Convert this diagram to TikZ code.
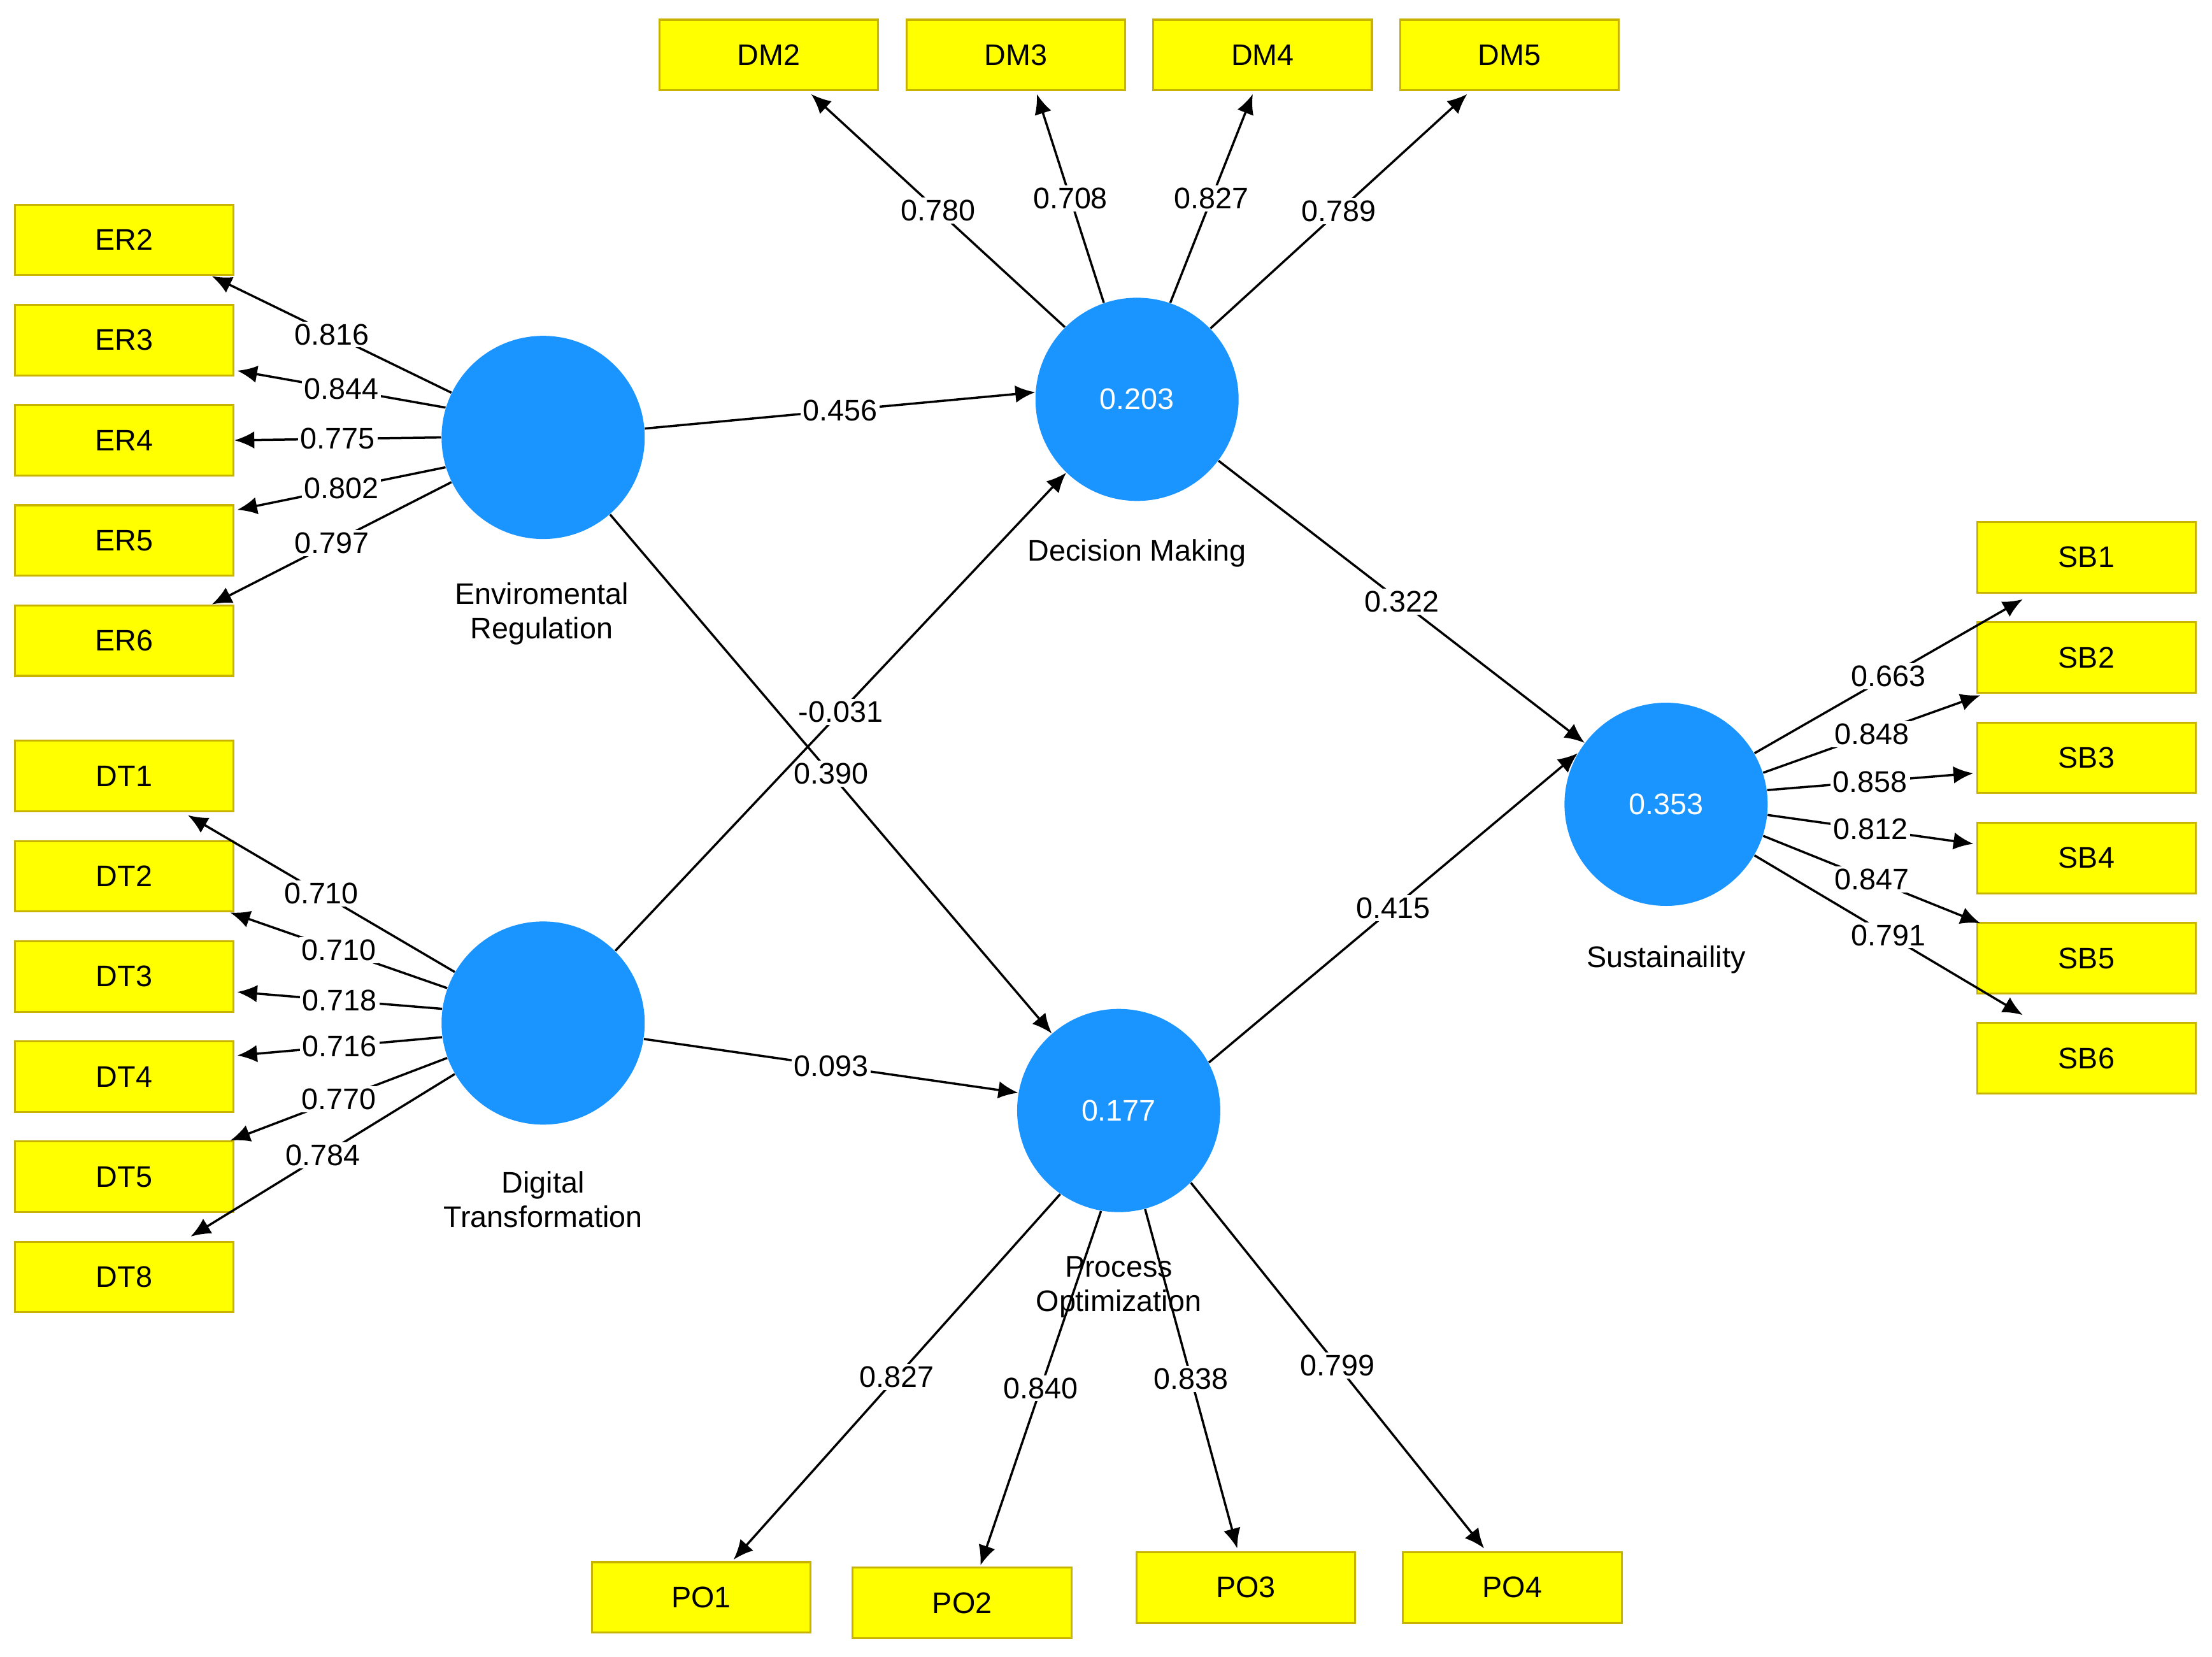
\documentclass[tikz,border=0pt]{standalone}
\usepackage{fontspec}
\setmainfont{Liberation Sans}
\usetikzlibrary{arrows.meta,calc}
\definecolor{cblue}{HTML}{1A94FF}
\definecolor{bfill}{HTML}{FFFF00}
\definecolor{bdraw}{HTML}{C8B400}
\begin{document}
\begin{tikzpicture}[x=0.02cm,y=-0.02cm,
 font=\fontsize{12}{14}\selectfont,
 lv/.style={circle,fill=cblue,minimum size=144*0.02cm,inner sep=0,text=white},
 box/.style={rectangle,fill=bfill,draw=bdraw,line width=0.8pt,minimum width=155*0.02cm,minimum height=50*0.02cm,inner sep=0},
 arr/.style={-{Latex[length=8pt,width=7pt]},line width=0.9pt},
 lab/.style={fill=white,inner sep=1pt,pos=0.5},
 lvcap/.style={align=center}]
\useasboundingbox (0,0) rectangle (1568,1174);
% latent variables
\node[lv] (er) at (385,310) {};
\node[lv] (dm) at (806,283) {0.203};
\node[lv] (dt) at (385,725) {};
\node[lv] (po) at (793,787) {0.177};
\node[lv] (sb) at (1181,570) {0.353};
\node[lvcap] (erc) at (384,435) {Enviromental\\Regulation};
\node[lvcap] (dmc) at (806,392) {Decision Making};
\node[lvcap] (dtc) at (385,850) {Digital\\Transformation};
\node[lvcap] (poc) at (793,912) {Process\\Optimization};
\node[lvcap] (sbc) at (1181,680) {Sustainaility};
% boxes
\node[box] (er2) at (88,170) {ER2};
\node[box] (er3) at (88,241) {ER3};
\node[box] (er4) at (88,312) {ER4};
\node[box] (er5) at (88,383) {ER5};
\node[box] (er6) at (88,454) {ER6};
\node[box] (dt1) at (88,550) {DT1};
\node[box] (dt2) at (88,621) {DT2};
\node[box] (dt3) at (88,692) {DT3};
\node[box] (dt4) at (88,763) {DT4};
\node[box] (dt5) at (88,834) {DT5};
\node[box] (dt8) at (88,905) {DT8};
\node[box] (dm2) at (545,39) {DM2};
\node[box] (dm3) at (720,39) {DM3};
\node[box] (dm4) at (895,39) {DM4};
\node[box] (dm5) at (1070,39) {DM5};
\node[box] (sb1) at (1479,395) {SB1};
\node[box] (sb2) at (1479,466) {SB2};
\node[box] (sb3) at (1479,537) {SB3};
\node[box] (sb4) at (1479,608) {SB4};
\node[box] (sb5) at (1479,679) {SB5};
\node[box] (sb6) at (1479,750) {SB6};
\node[box] (po1) at (497,1132) {PO1};
\node[box] (po2) at (682,1136) {PO2};
\node[box] (po3) at (883,1125) {PO3};
\node[box] (po4) at (1072,1125) {PO4};
% ER loadings
\draw[arr] (er.154) -- node[lab]{0.816} ($(er2.south east)+(-16,0)$);
\draw[arr] (er.163) -- node[lab]{0.844} ($(er3.south east)+(2,-4)$);
\draw[arr] (er.180) -- node[lab]{0.775} (er4.east);
\draw[arr] (er.197) -- node[lab]{0.802} ($(er5.north east)+(2,4)$);
\draw[arr] (er.206) -- node[lab]{0.797} ($(er6.north east)+(-16,0)$);
% DT loadings
\draw[arr] (dt.150) -- node[lab]{0.710} ($(dt1.south east)+(-33,2)$);
\draw[arr] (dt.160) -- node[lab]{0.710} ($(dt2.south east)+(-3,0)$);
\draw[arr] (dt.172) -- node[lab]{0.718} ($(dt3.east)+(2,11)$);
\draw[arr] (dt.188) -- node[lab]{0.716} ($(dt4.east)+(2,-15)$);
\draw[arr] (dt.200) -- node[lab]{0.770} ($(dt5.north east)+(-3,0)$);
\draw[arr] (dt.210) -- node[lab]{0.784} ($(dt8.north east)+(-31,-3)$);
% DM loadings
\draw[arr] (dm.135) -- node[lab]{0.780} ($(dm2.south)+(30,2)$);
\draw[arr] (dm.109) -- node[lab]{0.708} ($(dm3.south)+(15,2)$);
\draw[arr] (dm.71) -- node[lab]{0.827} ($(dm4.south)+(-7,2)$);
\draw[arr] (dm.44) -- node[lab]{0.789} ($(dm5.south)+(-30,2)$);
% SB loadings
\draw[arr] (sb.30) -- node[lab]{0.663} ($(sb1.south west)+(33,4)$);
\draw[arr] (sb.18) -- node[lab]{0.848} ($(sb2.south west)+(3,1)$);
\draw[arr] (sb.8) -- node[lab]{0.858} ($(sb3.west)+(-2,11)$);
\draw[arr] (sb.-6) -- node[lab]{0.812} ($(sb4.west)+(-2,-10)$);
\draw[arr] (sb.-18) -- node[lab]{0.847} ($(sb5.north west)+(3,1)$);
\draw[arr] (sb.-30) -- node[lab]{0.791} ($(sb6.north west)+(33,-5)$);
% PO loadings
\draw[arr] (po.-125) -- node[lab]{0.827} ($(po1.north)+(23,-1)$);
\draw[arr] (po.-100) -- node[lab]{0.840} ($(po2.north)+(13,-1)$);
\draw[arr] (po.-75) -- node[lab]{0.838} ($(po3.north)+(-6,-2)$);
\draw[arr] (po.-45) -- node[lab]{0.799} ($(po4.north)+(-20,-2)$);
% structural paths
\draw[arr] (er.5) -- node[lab]{0.456} (dm.176);
\draw[arr] (er.-49) -- node[lab]{0.390} (po.131);
\draw[arr] (dt.45) -- node[lab]{-0.031} (dm.-134);
\draw[arr] (dt.-9) -- node[lab]{0.093} (po.170);
\draw[arr] (dm.-37) -- node[lab]{0.322} (sb.143);
\draw[arr] (po.28) -- node[lab]{0.415} (sb.150);
\end{tikzpicture}
\end{document}
